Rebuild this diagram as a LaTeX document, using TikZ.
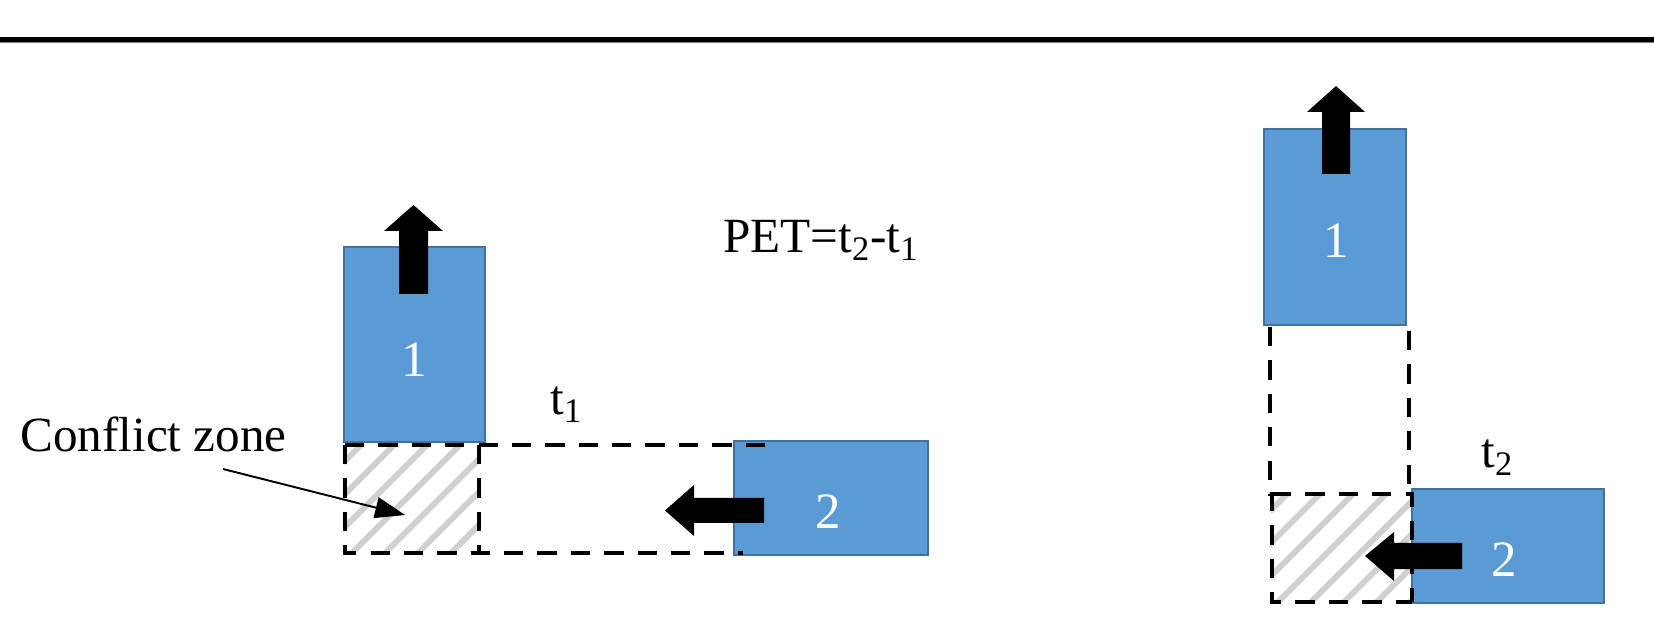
\documentclass[tikz,border=0pt]{standalone}
\usepackage{fontspec}
\setmainfont{Liberation Serif}
\usetikzlibrary{arrows.meta}
\definecolor{boxfill}{HTML}{5B9BD5}
\definecolor{boxedge}{HTML}{41719C}
\definecolor{hatchgray}{HTML}{D0D0D0}
\tikzset{
  px/.style={x=0.02cm,y=-0.02cm},
  vehicle/.style={draw=boxedge,fill=boxfill,line width=1.2pt},
  dashline/.style={draw=black,line width=2pt,dash pattern=on 11pt off 8pt},
  hatchline/.style={draw=hatchgray,line width=3.4pt},
  blockarrow/.style={fill=black,draw=none},
  lbl/.style={font=\fontsize{28}{30}\selectfont,text=black,inner sep=0pt},
  digit/.style={font=\fontsize{29}{31}\selectfont,text=white,inner sep=0pt},
  pointer/.style={draw=black,line width=1.1pt,-{Triangle[length=17pt,width=12pt]}}
}
\begin{document}
\begin{tikzpicture}[px]
\useasboundingbox (0,0) rectangle (1654,638);
% top rule
\draw[line width=2.3pt] (0,39.5) -- (1654,39.5);
\draw[line width=0.6pt,gray] (0,42.5) -- (1654,42.5);

% ---------- left panel ----------
\begin{scope}
  \clip (345,445) rectangle (479,553);
  \foreach \i in {-5,...,6}
    \draw[hatchline] ({345+\i*33},560) -- ++(130,-130);
\end{scope}
\draw[vehicle] (344,247) rectangle (485,442);
\draw[vehicle] (734,441) rectangle (928,555);
% dashed swept path
\draw[dashline] (345,445) -- (345,553) -- (743,553);
\draw[dashline] (345,445) -- (768,445);
\draw[dashline] (479,445) -- (479,553);
% direction arrows
\fill[blockarrow] (399,294) -- (399,231) -- (384,231) -- (413.5,205) -- (443,231) -- (428,231) -- (428,294) -- cycle;
\fill[blockarrow] (764,498) -- (694,498) -- (694,485) -- (665,510.5) -- (694,536) -- (694,523) -- (764,523) -- cycle;
\node[digit] (L1) at (414,360) {1};
\node[digit] (L2) at (828,512) {2};
\node[lbl,anchor=base west] (cz) at (20,452) {Conflict zone};
\coordinate (czt) at (223,469);
\coordinate (czh) at (405,515);
\draw[pointer] (czt) -- (czh);
\node[lbl,anchor=base west] (t1) at (550,415) {t\textsubscript{1}};
\node[lbl,anchor=base west] (pet) at (723,253) {PET=t\textsubscript{2}-t\textsubscript{1}};

% ---------- right panel ----------
\begin{scope}
  \clip (1271,494) rectangle (1412,602);
  \foreach \i in {-5,...,6}
    \draw[hatchline] ({1271+\i*33},609) -- ++(130,-130);
\end{scope}
\draw[vehicle] (1264,129) rectangle (1406,325);
\draw[vehicle] (1412,489) rectangle (1604,603);
\draw[dashline] (1270,327) -- (1270,494) -- (1272,494) -- (1272,602) -- (1412,602);
\draw[dashline] (1409,331) -- (1409,494);
\draw[dashline] (1272,494) -- (1412,494) -- (1412,602);
\fill[blockarrow] (1322,174) -- (1322,112) -- (1307,112) -- (1336,86) -- (1365,112) -- (1350,112) -- (1350,174) -- cycle;
\fill[blockarrow] (1462,543) -- (1394,543) -- (1394,532) -- (1365,556) -- (1394,581) -- (1394,569) -- (1462,569) -- cycle;
\node[digit] (R1) at (1336,241) {1};
\node[digit] (R2) at (1504,560) {2};
\node[lbl,anchor=base west] (t2) at (1481,468) {t\textsubscript{2}};
\end{tikzpicture}
\end{document}
